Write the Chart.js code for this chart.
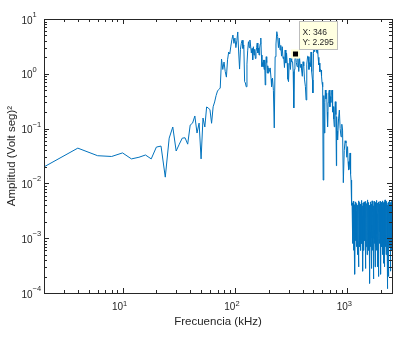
<!DOCTYPE html>
<html><head><meta charset="utf-8">
<script src="https://cdn.jsdelivr.net/npm/chart.js@4/dist/chart.umd.min.js"></script>
<style>html,body{margin:0;padding:0;background:#fff}#wrap{width:404px;height:338px}</style>
</head><body><div id="wrap"><canvas id="c" width="404" height="338"></canvas></div>
<script>
// Frequency (kHz) and amplitude ((Volt seg)^2)
const freqMain = [2,4,6,8,10,12,14,16,18,20,22,24,26,28,30,32,34,36,38,40,42,44,46,48,50,52,54,56,58,60,62,64,66,68,70,72,74,76,78,80,82,84,86,88,90,92,94,96,98,100,102,104,106,108,110,112,114,116,118,120,122,124,126,128,130,132,134,136,138,140,142,144,146,148,150,152,154,156,158,160,162,164,166,168,170,172,174,176,178,180,182,184,186,188,190,192,194,196,198,200,204,206,210,212,216,220,224,228,232,236,240,244,248,252,256,260,264,268,272,276,280,284,288,292,296,300,304,308,312,316,320,326,330,334,338,342,346,352,358,364,370,376,382,388,392,398,404,410,416,424,430,436,444,450,456,462,470,476,482,490,494,500,506,510,516,520,528,532,538,544,550,558,564,570,578,584,590,596,604,610,616,620,626,632,638,646,656,662,668,676,684,692,700,706,714,722,732,740,752,758,766,774,782,792,800,804,812,820,836,850,864,880,894,908,922,940,956,974,990,1006,1016,1028,1040,1058,1070,1080,1092];
const ampMain = [0.020,0.044,0.032,0.031,0.036,0.028,0.030,0.033,0.028,0.046,0.048,0.013,0.067,0.107,0.039,0.052,0.067,0.068,0.052,0.116,0.126,0.170,0.083,0.126,0.028,0.156,0.107,0.248,0.238,0.22,0.125,0.25,0.306,0.40,0.485,0.52,0.55,1.86,1.2,1.64,1.1,0.87,1.8,2.5,2.3,3.2,4.2,5.1,3.6,4.5,3.0,4.0,5.8,2.5,1.22,2.8,3.6,4.1,2.9,3.36,0.72,0.68,0.58,1.5,2.7,3.85,3.0,4.14,3.2,2.40,2.9,1.8,3.12,2.2,2.8,1.9,2.53,3.0,3.65,2.4,2.96,2.2,2.96,3.5,4.50,2.2,1.35,1.6,1.35,1.79,1.2,1.79,0.625,1.5,2.05,1.6,1.03,1.4,1.03,1.28,1.1,1.28,0.8,0.582,0.838,0.5,0.103,2.05,3.5,5.87,4.8,3.0,4.5,2.72,3.3,2.1,3.12,1.9,2.05,1.3,2.72,1.57,2.4,1.57,0.8,0.718,1.5,1.94,1.2,1.94,1.66,1.66,1.1,0.238,1.2,1.79,2.295,1.6,1.35,1.9,1.1,1.94,1.3,1.5,1.17,0.9,1.66,1.4,0.8,0.582,0.333,1.5,2.1,2.05,1.2,1.6,1.35,2.5,1.1,0.77,0.447,2.37,3.35,2.53,2.8,4.0,4.14,2.6,2.37,3.12,2.0,1.45,1.57,1.09,1.2,1.17,0.9,0.7,0.582,0.0115,0.165,0.4,0.083,0.3,0.506,0.35,0.44,0.2,0.108,0.3,0.45,0.506,0.25,0.382,0.3,0.45,0.506,0.2,0.251,0.15,0.108,0.2,0.31,0.18,0.021,0.165,0.09,0.062,0.15,0.218,0.1,0.071,0.12,0.094,0.0103,0.04,0.06,0.0546,0.03,0.0468,0.025,0.0177,0.018,0.0359,0.015,0.0115,0.004];
const freqNoise = [1103,1110,1117,1124,1131,1138,1145,1152,1159,1166,1173,1180,1187,1194,1201,1208,1215,1222,1229,1236,1243,1250,1257,1264,1271,1278,1285,1292,1299,1306,1313,1320,1327,1334,1341,1348,1355,1362,1369,1376,1383,1390,1397,1404,1411,1418,1425,1432,1439,1446,1453,1460,1467,1474,1481,1488,1495,1502,1509,1516,1523,1530,1537,1544,1551,1558,1565,1572,1579,1586,1593,1600,1607,1614,1621,1628,1635,1642,1649,1656,1663,1670,1677,1684,1691,1698,1705,1712,1719,1726,1733,1740,1747,1754,1761,1768,1775,1782,1789,1796,1803,1810,1817,1824,1831,1838,1845,1852,1859,1866,1873,1880,1887,1894,1901,1908,1915,1922,1929,1936,1943,1950,1957,1964,1971,1978,1985,1992,1999,2006,2013,2020,2027,2034,2041,2048,2055,2062,2069,2076,2083,2090,2097,2104,2111,2118,2125,2132,2139,2146,2153,2160,2167,2174,2181,2188,2195,2202,2209,2216,2223,2230,2237,2244,2251,2258,2265,2272,2279,2286,2293,2300,2307,2314,2321,2328,2335,2342,2349,2356,2363,2370,2377,2384,2391,2398,2405,2412,2419,2426,2433,2440,2447,2454,2461,2468,2475,2482,2489,2496];
const ampNoise = [
0.0044,0.0008,0.0035,0.0012,0.0047,0.0006,0.0029,0.0010,0.0041,0.00022,0.0038,0.0009,0.0046,0.0013,0.0031,0.0007,0.0043,0.0011,0.0027,0.0005,
0.0040,0.0009,0.0048,0.0003,0.0034,0.0012,0.0045,0.0007,0.0030,0.0010,0.0042,0.0006,0.0037,0.0014,0.0049,0.0008,0.0026,0.0011,0.0039,0.00025,
0.0044,0.0010,0.0032,0.0006,0.0046,0.0013,0.0036,0.0009,0.0041,0.00028,0.0028,0.0012,0.0047,0.0007,0.0033,0.0010,0.0043,0.0005,0.0038,0.0011,
0.0050,0.0008,0.0029,0.0012,0.0045,0.0006,0.0035,0.0009,0.0040,0.00015,0.0031,0.0011,0.0046,0.0007,0.0037,0.0013,0.0042,0.00028,0.0027,0.0010,
0.0048,0.0009,0.0034,0.0006,0.0044,0.0012,0.0030,0.00018,0.0039,0.0010,0.0047,0.0008,0.0025,0.0011,0.0043,0.0003,0.0036,0.0013,0.0045,0.0007,
0.0032,0.0010,0.0041,0.0006,0.0049,0.0012,0.0028,0.0009,0.0038,0.0003,0.0044,0.0011,0.0035,0.0007,0.0046,0.0002,0.0030,0.0010,0.0042,0.0008,
0.0037,0.0013,0.0047,0.0006,0.0033,0.0010,0.0040,0.00022,0.0045,0.0009,0.0029,0.0012,0.0043,0.0007,0.0036,0.0011,0.0048,0.0005,0.0031,0.0010,
0.0044,0.0008,0.0039,0.0012,0.0026,0.00035,0.0046,0.0010,0.0034,0.0003,0.0041,0.0009,0.0050,0.0013,0.0030,0.0007,0.0043,0.0011,0.0037,0.0005,
0.0045,0.0010,0.0032,0.0008,0.0047,0.0012,0.0035,0.00012,0.0040,0.0009,0.0028,0.0006,0.0044,0.0011,0.0038,0.0002,0.0046,0.0010,0.0033,0.0007,
0.0042,0.0013,0.0049,0.0008,0.0031,0.0010,0.0039,0.00025,0.0045,0.0011,0.0036,0.0007,0.0027,0.0012,0.0043,0.0009,0.0047,0.0006,0.0034,0.0010];
const xTickValues = [10, 100, 1000];
const xTickBase = ['10', '10', '10'];
const xTickExp = ['1', '2', '3'];
const yTickValues = [0.0001, 0.001, 0.01, 0.1, 1, 10];
const yTickBase = ['10', '10', '10', '10', '10', '10'];
const yTickExp = ['\u22124', '\u22123', '\u22122', '\u22121', '0', '1'];
const tipX = [346];
const tipY = [2.295];

const FONT = '"Liberation Sans", Arial, Helvetica, sans-serif';
const INK = '#262626';

const series = freqMain.map((f, i) => ({x: f, y: ampMain[i]}))
  .concat(freqNoise.map((f, i) => ({x: f, y: ampNoise[i]})));
const tipPoints = tipX.map((v, i) => ({x: v, y: tipY[i]}));

const boxPlugin = {
  id: 'matlabBox',
  afterDraw(chart) {
    const {ctx, chartArea: a, scales: {x, y}} = chart;
    ctx.save();
    ctx.strokeStyle = INK;
    ctx.lineWidth = 1;
    ctx.beginPath();
    for (let e = 0; e <= 4; e++) {
      for (let k = 1; k <= 9; k++) {
        const v = k * Math.pow(10, e);
        if (v < x.min || v > x.max) continue;
        const px = Math.round(x.getPixelForValue(v)) + 0.5;
        const len = k === 1 ? 5 : 3;
        ctx.moveTo(px, a.bottom); ctx.lineTo(px, a.bottom - len);
        ctx.moveTo(px, a.top); ctx.lineTo(px, a.top + len);
      }
    }
    for (let e = -4; e <= 1; e++) {
      for (let k = 1; k <= 9; k++) {
        const v = k * Math.pow(10, e);
        if (v < y.min * 0.999 || v > y.max * 1.001) continue;
        const py = Math.round(y.getPixelForValue(v)) + 0.5;
        const len = k === 1 ? 5 : 3;
        ctx.moveTo(a.left, py); ctx.lineTo(a.left + len, py);
        ctx.moveTo(a.right, py); ctx.lineTo(a.right - len, py);
      }
    }
    ctx.stroke();
    ctx.strokeRect(Math.round(a.left) + 0.5, Math.round(a.top) + 0.5, Math.round(a.width), Math.round(a.height));

    // tick labels: base "10" with raised exponent, positioned by the scales
    ctx.fillStyle = INK;
    ctx.textBaseline = 'alphabetic';
    xTickValues.forEach((v, i) => {
      const px = x.getPixelForValue(v) + 0.5;
      ctx.font = '10px ' + FONT; ctx.textAlign = 'right';
      ctx.fillText(xTickBase[i], px, a.bottom + 17);
      ctx.font = '7.5px ' + FONT; ctx.textAlign = 'left';
      ctx.fillText(xTickExp[i], px, a.bottom + 12.5);
    });
    yTickValues.forEach((v, i) => {
      const py = y.getPixelForValue(v);
      ctx.font = '10px ' + FONT; ctx.textAlign = 'right';
      ctx.fillText(yTickBase[i], a.left - 11.5, py + 4.5);
      ctx.font = '7.5px ' + FONT; ctx.textAlign = 'left';
      ctx.fillText(yTickExp[i], a.left - 11.5, py - 2);
    });

    // data tip box
    const px = x.getPixelForValue(tipX[0]);
    const py = y.getPixelForValue(tipY[0]);
    const bx = Math.round(px + 4) + 0.5, by = Math.round(py - 33) + 0.5;
    ctx.font = '8.5px ' + FONT;
    ctx.textAlign = 'left';
    const l1 = 'X: ' + tipX[0], l2 = 'Y: ' + tipY[0];
    const w = Math.ceil(Math.max(ctx.measureText(l1).width, ctx.measureText(l2).width)) + 6;
    ctx.fillStyle = '#FFFFE1';
    ctx.fillRect(bx, by, w, 28);
    ctx.strokeStyle = '#BDBDBD';
    ctx.strokeRect(bx, by, w, 28);
    ctx.fillStyle = INK;
    ctx.fillText(l1, bx + 3, by + 13);
    ctx.fillText(l2, bx + 3, by + 23);
    ctx.restore();
  }
};

new Chart(document.getElementById('c'), {
  type: 'scatter',
  data: {
    datasets: [
      {
        data: tipPoints,
        pointStyle: 'rect',
        pointRadius: 5,
        pointBackgroundColor: '#000000',
        pointBorderColor: '#FFFFD6',
        pointBorderWidth: 2,
        showLine: false
      },
      {
        data: series,
        showLine: true,
        borderColor: '#0072BD',
        borderWidth: 1,
        pointRadius: 0,
        tension: 0,
        fill: false
      }
    ]
  },
  options: {
    responsive: false,
    animation: false,
    devicePixelRatio: 1,
    layout: {padding: {top: 19, right: 12, bottom: 0, left: 0}},
    plugins: {legend: {display: false}, tooltip: {enabled: false}},
    scales: {
      x: {
        type: 'logarithmic',
        min: 2,
        max: 2500,
        grid: {display: false, drawTicks: false},
        border: {display: false},
        afterBuildTicks: s => { s.ticks = xTickValues.map(v => ({value: v})); },
        afterFit: s => { s.height = 45; },
        ticks: {display: false},
        title: {
          display: true, text: 'Frecuencia (kHz)', color: INK,
          font: {family: FONT, size: 11.5}, padding: {top: 0, bottom: 9}
        }
      },
      y: {
        type: 'logarithmic',
        min: 0.0001,
        max: 10,
        grid: {display: false, drawTicks: false},
        border: {display: false},
        afterBuildTicks: s => { s.ticks = yTickValues.map(v => ({value: v})); },
        afterFit: s => { s.width = 44; },
        ticks: {display: false},
        title: {
          display: true, text: 'Amplitud (Volt seg)\u00B2', color: INK,
          font: {family: FONT, size: 11.5}, padding: {top: 5, bottom: 0}
        }
      }
    }
  },
  plugins: [boxPlugin]
});
</script>
</body></html>
